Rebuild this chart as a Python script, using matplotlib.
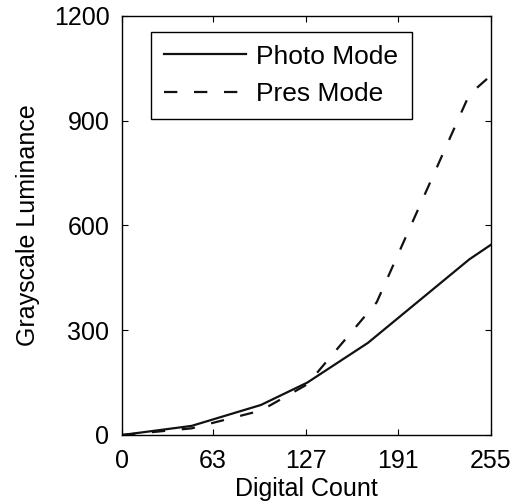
import matplotlib
matplotlib.use('Agg')
import matplotlib.pyplot as plt

plt.rcParams['font.family'] = ['Liberation Sans', 'DejaVu Sans']

# grayscale luminance measured at each digital count
counts_photo = [0, 48, 96, 128, 170, 240, 255]
lum_photo = [0, 26, 86, 150, 264, 503, 545]

counts_pres = [0, 48, 96, 128, 176, 240, 255]
lum_pres = [0, 19, 70, 145, 380, 975, 1030]

x_ticks = [0, 63, 127, 191, 255]
y_ticks = [0, 300, 600, 900, 1200]

FS = 18

fig = plt.figure(figsize=(5.22, 5.04), dpi=100)
ax = fig.add_axes([122 / 522, 69 / 504, 369 / 522, 419 / 504])

ax.plot(counts_photo, lum_photo, color='#111111', lw=1.6, label='Photo Mode')
ax.plot(counts_pres, lum_pres, color='#111111', lw=1.6, dashes=(6, 7.5), label='Pres Mode')

ax.set_xlim(0, 255)
ax.set_ylim(0, 1200)
ax.set_xticks(x_ticks)
ax.set_yticks(y_ticks)
ax.tick_params(direction='in', length=4, width=0.8, top=True, right=True,
               labelsize=FS)
ax.tick_params(axis='y', pad=9)
ax.tick_params(axis='x', pad=10)
for s in ax.spines.values():
    s.set_linewidth(1.0)
ax.set_xlabel('Digital Count', fontsize=FS, labelpad=3)
ax.set_ylabel('Grayscale Luminance', fontsize=FS, labelpad=10)

leg = ax.legend(loc='upper left', bbox_to_anchor=(0.078, 0.963), fontsize=19,
                fancybox=False, edgecolor='black', framealpha=1,
                handlelength=3.1, handletextpad=0.4, borderpad=0.5,
                labelspacing=0.5, borderaxespad=0)
leg.get_frame().set_linewidth(1.0)

fig.savefig('out.png', dpi=100)
